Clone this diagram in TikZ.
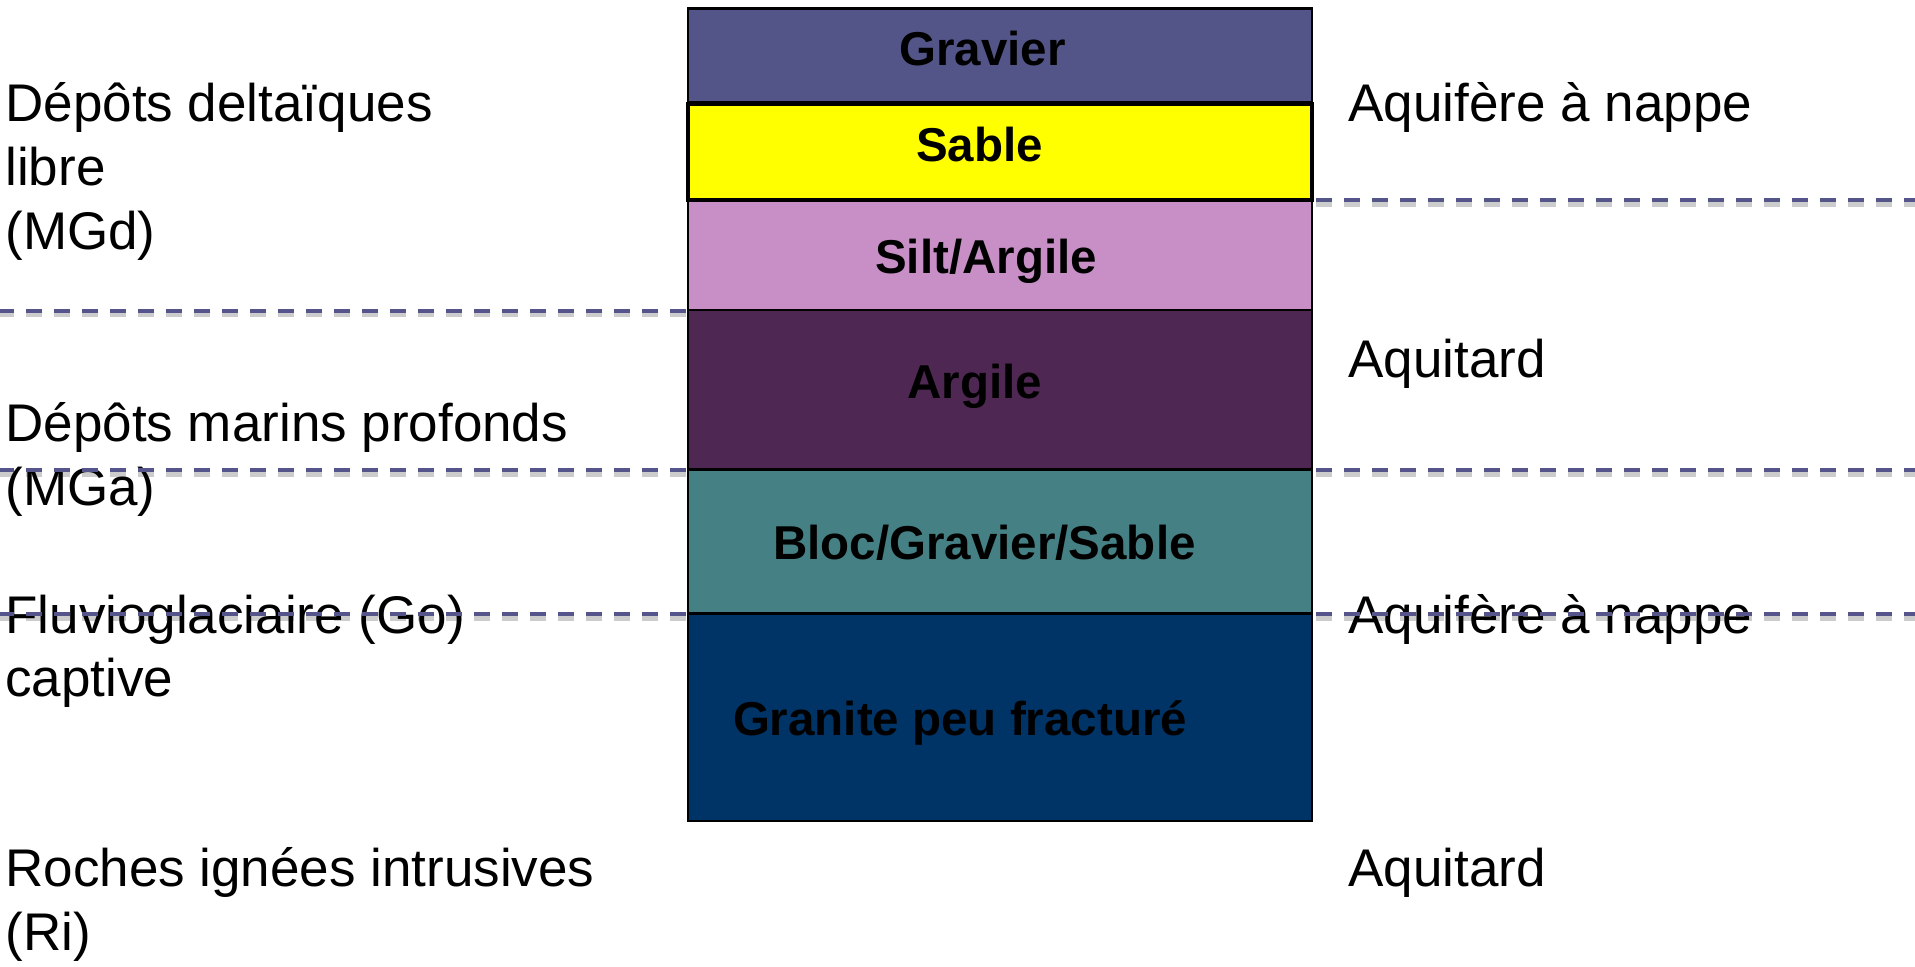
\documentclass[tikz,border=0pt]{standalone}
\usepackage{fontspec}
\setmainfont{Liberation Sans}
\definecolor{cgrav}{RGB}{83,85,137}
\definecolor{csable}{RGB}{255,255,0}
\definecolor{csilt}{RGB}{200,143,199}
\definecolor{cargile}{RGB}{78,40,82}
\definecolor{cbloc}{RGB}{69,128,132}
\definecolor{cgran}{RGB}{0,51,102}
\definecolor{cdash}{RGB}{85,85,140}
\definecolor{cshadow}{RGB}{204,204,204}
\tikzset{
  layer/.style={draw=black,line width=1.3pt},
  lbl/.style={font=\bfseries\fontsize{23.75pt}{28pt}\selectfont,inner sep=0pt,anchor=base},
  side/.style={font=\fontsize{26.5pt}{31.8pt}\selectfont,inner sep=0pt,anchor=base west},
  dline/.style={draw=cdash,line width=2pt,dash pattern=on 8pt off 6pt},
  dshadow/.style={draw=cshadow,line width=2.2pt,dash pattern=on 8pt off 6pt}
}
\begin{document}
\begin{tikzpicture}[x=0.5pt,y=-0.5pt]
\useasboundingbox (0,0) rectangle (1915,966);
% layers
\draw[layer,fill=cgrav] (688,8.5) rectangle (1312,102);
\draw[layer,fill=csable,line width=2pt] (688,104) rectangle (1312,199.5);
\draw[layer,fill=csilt] (688,200.5) rectangle (1312,310);
\draw[layer,fill=cargile] (688,310) rectangle (1312,469.5);
\draw[layer,fill=cbloc] (688,469.5) rectangle (1312,613.5);
\draw[layer,fill=cgran] (688,613.5) rectangle (1312,821);
% layer labels
\node[lbl] (gravier) at (982.5,65) {Gravier};
\node[lbl] (sable) at (979.5,161) {Sable};
\node[lbl] (silt) at (986,273) {Silt/Argile};
\node[lbl] (argile) at (974.6,398) {Argile};
\node[lbl] (bloc) at (984.4,559) {Bloc/Gravier/Sable};
\node[lbl] (granite) at (960,735) {Granite peu fracturé};
% dashed line end points
\coordinate (l1a) at (686,310.5); \coordinate (l1b) at (0,310.5);
\coordinate (l2a) at (686,470); \coordinate (l2b) at (0,470);
\coordinate (l3a) at (686,614); \coordinate (l3b) at (0,614);
\coordinate (r1a) at (1316,200); \coordinate (r1b) at (1915,200);
\coordinate (r2a) at (1316,470); \coordinate (r2b) at (1915,470);
\coordinate (r3a) at (1316,614); \coordinate (r3b) at (1915,614);
% shadows
\foreach \a/\b in {l1a/l1b,l2a/l2b,l3a/l3b,r1a/r1b,r2a/r2b,r3a/r3b}{
  \draw[dshadow] ([yshift=-2.2pt]\a) -- ([yshift=-2.2pt]\b);
}
% left texts
\node[side] (t1) at (5,121.7) {Dépôts deltaïques};
\node[side] (t2) at (5,185.3) {libre};
\node[side] (t3) at (5,249) {(MGd)};
\node[side] (t4) at (5,441.7) {Dépôts marins profonds};
\node[side] (t5) at (5,505) {(MGa)};
\node[side] (t6) at (5,633) {Fluvioglaciaire (Go)};
\node[side] (t7) at (5,696) {captive};
\node[side] (t8) at (5,886) {Roches ignées intrusives};
\node[side] (t9) at (5,950) {(Ri)};
% right texts
\node[side] (r1) at (1348,121.7) {Aquifère à nappe};
\node[side] (r2) at (1348,377.7) {Aquitard};
\node[side] (r3) at (1348,633) {Aquifère à nappe};
\node[side] (r4) at (1348,886) {Aquitard};
% dashed lines
\foreach \a/\b in {l1a/l1b,l2a/l2b,l3a/l3b,r1a/r1b,r2a/r2b,r3a/r3b}{
  \draw[dline] (\a) -- (\b);
}
\end{tikzpicture}
\end{document}
